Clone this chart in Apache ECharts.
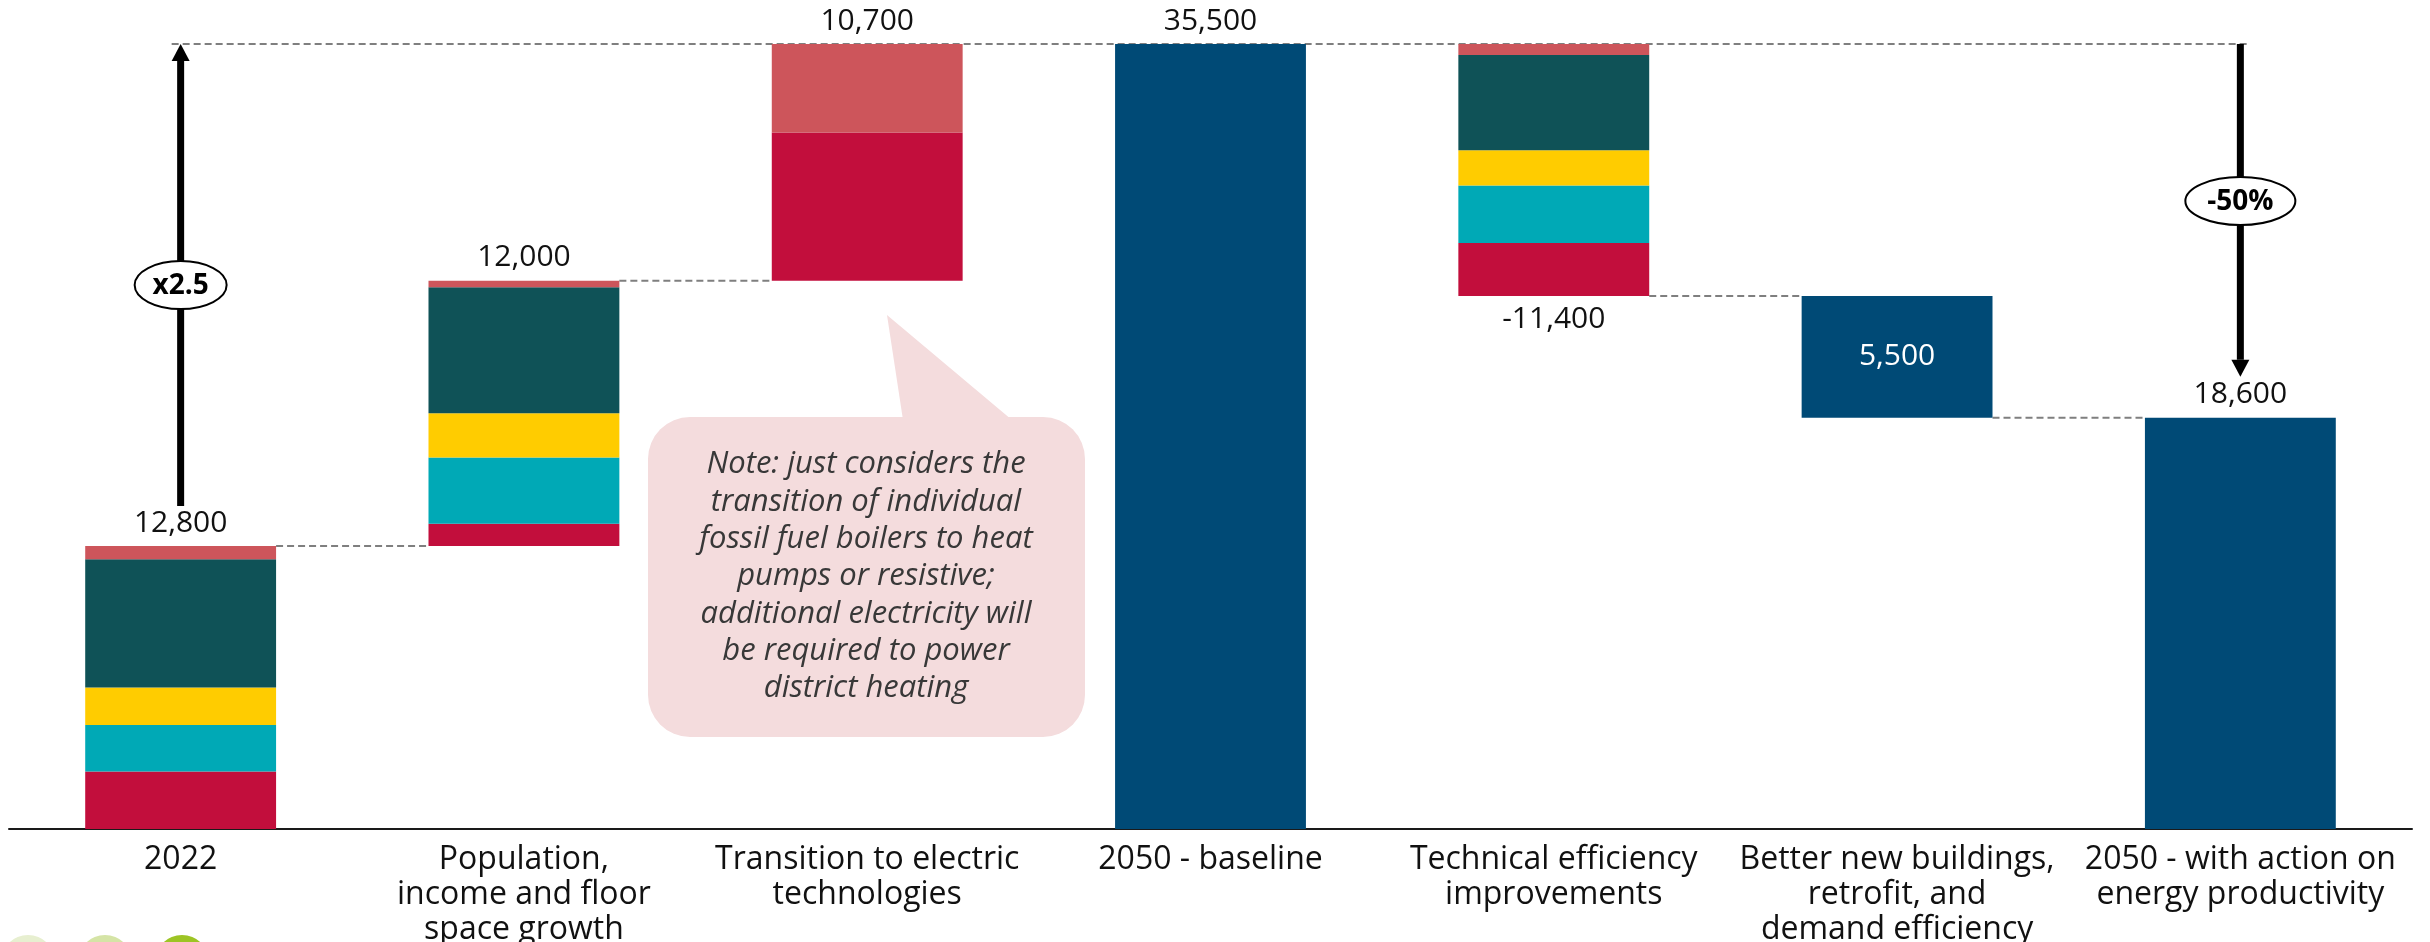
<!DOCTYPE html>
<html>
<head>
<meta charset="utf-8">
<script src="https://cdn.jsdelivr.net/npm/echarts@6/dist/echarts.min.js"></script>
<style>
  html, body { margin: 0; padding: 0; background: #ffffff; }
  #chart { width: 2430px; height: 942px; }
</style>
</head>
<body>
<div id="chart"></div>
<script>
// ---------- data ----------
const categories = [
  '2022',
  'Population,\nincome and floor\nspace growth',
  'Transition to electric\ntechnologies',
  '2050 - baseline',
  'Technical efficiency\nimprovements',
  'Better new buildings,\nretrofit, and\ndemand efficiency',
  '2050 - with action on\nenergy productivity'
];
// invisible offset of each floating bar
const baseValues   = [0, 12800, 24800, 0, 24100, 18600, 0];
// stacked segments (bottom -> top)
const crimsonVals  = [2600, 1000, 6700, null, 2400, null, null];
const cyanVals     = [2100, 3000, null, null, 2600, null, null];
const yellowVals   = [1700, 2000, null, null, 1600, null, null];
const tealVals     = [5800, 5700, null, null, 4300, null, null];
const lightRedVals = [600, 300, 4000, null, 500, null, null];
const totalVals    = [null, null, null, 35500, null, 5500, 18600];
// value labels
const valueLabels  = ['12,800', '12,000', '10,700', '35,500', '-11,400', '5,500', '18,600'];
const labelPlace   = ['top', 'top', 'top', 'top', 'bottom', 'inside', 'top'];
// connectors: [fromCategory, toCategory, level]
const connectors   = [[0, 1, 12800], [1, 2, 24800], [4, 5, 24100], [5, 6, 18600]];
const topLevel     = 35500;
// change arrows: [category, fromValue, toValue, text, ellipseValue]
const arrows       = [[0, 12800, 35500, 'x2.5', 24600], [6, 35500, 18600, '-50%', 28400]];
const noteLines    = [
  'Note: just considers the',
  'transition of individual',
  'fossil fuel boilers to heat',
  'pumps or resistive;',
  'additional electricity will',
  'be required to power',
  'district heating'
];

const FONT = '"Open Sans", "Noto Sans", sans-serif';
const C = {
  crimson: '#C20E3C', cyan: '#00A9B6', yellow: '#FFCC00', teal: '#0F5257',
  lightRed: '#CD555B', navy: '#004A76'
};

const chart = echarts.init(document.getElementById('chart'), null, { renderer: 'canvas' });

function totalTop(i) {
  return baseValues[i] + [crimsonVals, cyanVals, yellowVals, tealVals, lightRedVals, totalVals]
    .reduce((s, arr) => s + (arr[i] || 0), 0);
}

function seg(name, data, color) {
  return {
    name, type: 'bar', stack: 'w', data, barWidth: '55.6%', z: 3,
    itemStyle: { color }, emphasis: { disabled: true }, silent: true
  };
}

const option = {
  animation: false,
  grid: { left: 9, right: 18, top: 33, bottom: 113, containLabel: false, outerBoundsMode: 'none' },
  xAxis: {
    type: 'category', data: categories,
    axisLine: { lineStyle: { color: '#1a1a1a', width: 2 } },
    axisTick: { show: false },
    axisLabel: { interval: 0, color: '#111', fontSize: 32, lineHeight: 35, margin: 13, fontFamily: FONT }
  },
  yAxis: { type: 'value', min: 0, max: 36000, show: false, splitLine: { show: false } },
  series: [
    {
      name: 'base', type: 'bar', stack: 'w', data: baseValues, barWidth: '55.6%',
      itemStyle: { color: 'rgba(0,0,0,0)' }, silent: true, emphasis: { disabled: true }
    },
    seg('crimson', crimsonVals, C.crimson),
    seg('cyan', cyanVals, C.cyan),
    seg('yellow', yellowVals, C.yellow),
    seg('teal', tealVals, C.teal),
    seg('lightRed', lightRedVals, C.lightRed),
    seg('total', totalVals, C.navy),
    // dashed connectors
    {
      type: 'custom', z: 1, silent: true,
      data: connectors.map(c => [c[0], c[1], c[2]]).concat([[0, 6, topLevel]]),
      renderItem: function (params, api) {
        const from = api.value(0), to = api.value(1), lvl = api.value(2);
        const band = api.size([1, 0])[0];
        const half = band * 0.556 / 2;
        const p1 = api.coord([from, lvl]), p2 = api.coord([to, lvl]);
        let x1 = p1[0] + half, x2 = p2[0] - half;
        if (params.dataIndex === connectors.length) { x1 = p1[0] - 9; x2 = p2[0] + 9; }
        return {
          type: 'line',
          shape: { x1, y1: p1[1], x2, y2: p2[1] },
          style: { stroke: '#7f7f7f', lineWidth: 2, lineDash: [7, 4] }
        };
      }
    },
    // value labels
    {
      type: 'custom', z: 5, silent: true,
      data: categories.map((c, i) => [i, labelPlace[i] === 'bottom' ? baseValues[i] : labelPlace[i] === 'inside' ? baseValues[i] + totalVals[i] / 2 : totalTop(i)]),
      renderItem: function (params, api) {
        const i = params.dataIndex;
        const p = api.coord([api.value(0), api.value(1)]);
        const place = labelPlace[i];
        const dy = place === 'top' ? -23 : place === 'bottom' ? 23 : 0;
        return {
          type: 'text', x: p[0], y: p[1] + dy,
          style: {
            text: valueLabels[i], align: 'center', verticalAlign: 'middle',
            fill: place === 'inside' ? '#ffffff' : '#111111',
            font: '30px ' + FONT
          }
        };
      }
    },
    // change arrows
    {
      type: 'custom', z: 6, silent: true,
      data: arrows.map(a => [a[0], a[1], a[2], a[4]]),
      renderItem: function (params, api) {
        const i = params.dataIndex;
        const cat = api.value(0), v1 = api.value(1), v2 = api.value(2), ve = api.value(3);
        const pFrom = api.coord([cat, v1]), pTo = api.coord([cat, v2]), pE = api.coord([cat, ve]);
        const x = pFrom[0];
        const up = v2 > v1;
        let yStart = up ? pFrom[1] - 40 : pFrom[1];
        let yTip = up ? pTo[1] : pTo[1] - 41;
        const headH = 17, headW = 18;
        const yBase = up ? yTip + headH : yTip - headH;
        const rx = i === 0 ? 46 : 55, ry = 24;
        return {
          type: 'group',
          children: [
            { type: 'line', shape: { x1: x, y1: yStart, x2: x, y2: yBase }, style: { stroke: '#000', lineWidth: 7 } },
            { type: 'polygon', shape: { points: [[x, yTip], [x - headW / 2, yBase], [x + headW / 2, yBase]] }, style: { fill: '#000' } },
            { type: 'ellipse', shape: { cx: x, cy: pE[1], rx, ry }, style: { fill: '#fff', stroke: '#000', lineWidth: 2 } },
            { type: 'text', x: x, y: pE[1] + 1, style: { text: arrows[i][3], align: 'center', verticalAlign: 'middle', fill: '#000', font: 'bold 28px ' + FONT } }
          ]
        };
      }
    }
  ],
  graphic: [
    // note bubble
    { type: 'polygon', z: 10, shape: { points: [[887, 315], [903, 420], [1012, 420]] }, style: { fill: '#F4DCDD' } },
    { type: 'rect', z: 10, shape: { x: 648, y: 417, width: 437, height: 320, r: 42 }, style: { fill: '#F4DCDD' } },
    {
      type: 'text', z: 11, x: 866, y: 446,
      style: {
        text: noteLines.join('\n'), align: 'center', verticalAlign: 'top', fill: '#383838',
        font: 'italic 31px ' + FONT, lineHeight: 37.3
      }
    },
    // logo fragments at bottom-left
    { type: 'circle', z: 0, shape: { cx: 28, cy: 962, r: 27 }, style: { fill: '#E7EFD0' } },
    { type: 'circle', z: 0, shape: { cx: 105, cy: 962, r: 27 }, style: { fill: '#D5E4A6' } },
    { type: 'circle', z: 0, shape: { cx: 182, cy: 962, r: 27 }, style: { fill: '#9DC424' } }
  ]
};
chart.setOption(option);
</script>
</body>
</html>
